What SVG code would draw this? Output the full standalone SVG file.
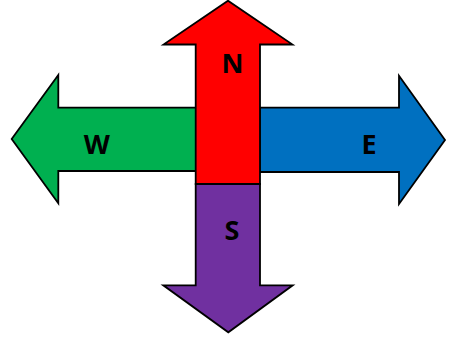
<svg xmlns="http://www.w3.org/2000/svg" width="449" height="340" viewBox="0 0 449 340">
<style>
.a{stroke:#000;stroke-width:1.8;stroke-linejoin:miter}
.t{font-family:"Open Sans","Liberation Sans",Arial,sans-serif;font-weight:bold;font-size:27px;fill:#000;text-anchor:middle}
</style>
<rect width="449" height="340" fill="#fff"/>
<g id="west">
<polygon class="a" fill="#00B050" points="196.5,107.7 58.3,107.7 58.3,75 11.7,139 58.3,203.3 58.3,171 196.5,171"/>
<text class="t" x="96.7" y="154">W</text>
</g>
<g id="east">
<polygon class="a" fill="#0070C0" points="260,107.7 399,107.7 399,75.7 445,140 399,204 399,172 260,172"/>
<text class="t" x="369" y="154">E</text>
</g>
<g id="north">
<polygon class="a" fill="#FF0000" points="195.7,184 195.7,44.5 163.5,44.5 228,0.7 292.5,44.5 260,44.5 260,184"/>
<text class="t" x="232.5" y="72.7">N</text>
</g>
<g id="south">
<polygon class="a" fill="#7030A0" points="195.7,184 260,184 260,285.3 292.7,285.3 228.3,332.3 163.3,285.3 195.7,285.3"/>
<text class="t" x="232" y="239.7">S</text>
</g>
</svg>
